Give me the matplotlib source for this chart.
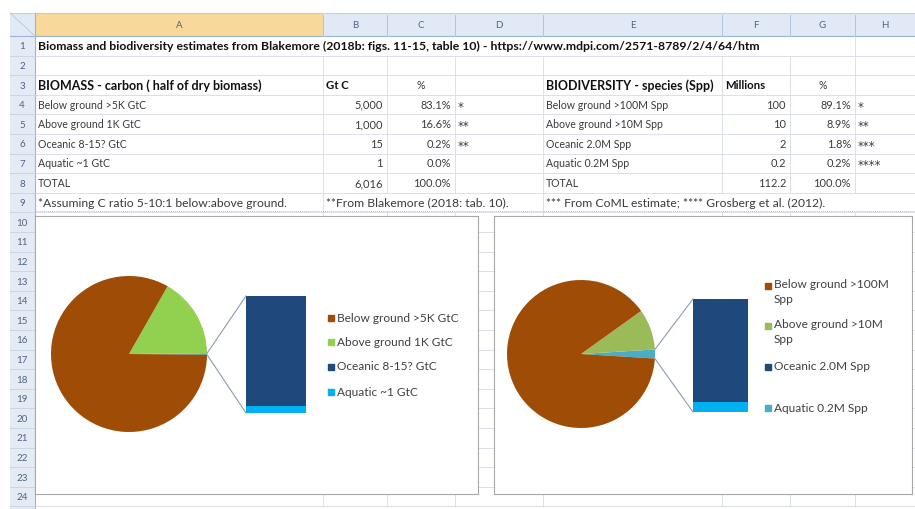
import math
import matplotlib
matplotlib.use("Agg")
import matplotlib.pyplot as plt
from matplotlib.patches import Rectangle
from matplotlib.transforms import Bbox

plt.rcParams['font.family'] = ['Lato', 'DejaVu Sans']

W, H = 915, 509

# ---- sheet contents ----
title = ("Biomass and biodiversity estimates from Blakemore (2018b: figs. 11-15, table 10)"
         " - https://www.mdpi.com/2571-8789/2/4/64/htm")
col_letters = ["A", "B", "C", "D", "E", "F", "G", "H"]

biomass_head = ["BIOMASS - carbon ( half of dry biomass)", "Gt C", "%"]
biomass_labels = ["Below ground >5K GtC", "Above ground 1K GtC", "Oceanic 8-15? GtC", "Aquatic ~1 GtC"]
biomass_gtc = [5000, 1000, 15, 1]
biomass_notes = ["*", "**", "**", ""]

biodiv_head = ["BIODIVERSITY - species (Spp)", "Millions", "%"]
biodiv_labels = ["Below ground >100M Spp", "Above ground >10M Spp", "Oceanic 2.0M Spp", "Aquatic 0.2M Spp"]
biodiv_millions = [100, 10, 2, 0.2]
biodiv_notes = ["*", "**", "***", "****"]

footnotes = ["*Assuming C ratio 5-10:1 below:above ground.",
             "**From Blakemore (2018: tab. 10).",
             "*** From CoML estimate; **** Grosberg et al. (2012)."]

legend_left = ["Below ground >5K GtC", "Above ground 1K GtC", "Oceanic 8-15? GtC", "Aquatic ~1 GtC"]
legend_right = ["Below ground >100M\nSpp", "Above ground >10M\nSpp", "Oceanic 2.0M Spp", "Aquatic 0.2M Spp"]

BROWN = "#9F4C06"
GREEN_L = "#92D050"
GREEN_R = "#9BBB59"
NAVY = "#1F497D"
AQUA = "#00B0F0"
TEAL = "#4BACC6"

GRID = "#D5DBE5"
TXT = "#3a3a3a"

# ---- layout (pixels) ----
cols = [35, 323, 387, 455, 543, 722, 790, 855, 915]
hdr_top, hdr_bot = 13, 36
row_h = 19.6


def row_top(n):
    return hdr_bot + (n - 1) * row_h


def row_mid(n):
    return row_top(n) + row_h / 2


fig = plt.figure(figsize=(W / 100, H / 100), dpi=100)
bg = fig.add_axes([0, 0, 1, 1])
bg.set_xlim(0, W)
bg.set_ylim(H, 0)
bg.axis("off")

# column header band
bg.add_patch(Rectangle((10, hdr_top), W - 10, hdr_bot - hdr_top, fc="#E0E9F5", ec="none"))
bg.add_patch(Rectangle((cols[0], hdr_top), cols[1] - cols[0], hdr_bot - hdr_top, fc="#F9D99B", ec="none"))
bg.plot([10, W], [hdr_bot, hdr_bot], color="#9EB3CD", lw=0.8)
bg.plot([10, W], [hdr_top, hdr_top], color="#B8C8DC", lw=0.6)
for i, letter in enumerate(col_letters):
    x0, x1 = cols[i], cols[i + 1]
    bg.plot([x1, x1], [hdr_top + 2, hdr_bot], color="#B4C4D9", lw=0.7)
    bg.text((x0 + x1) / 2, (hdr_top + hdr_bot) / 2 + 1, letter, ha="center", va="center",
            fontsize=7, color="#4F6381")

# row header strip
bg.add_patch(Rectangle((10, hdr_bot), cols[0] - 10, H - hdr_bot, fc="#E4EBF5", ec="none"))
bg.plot([cols[0], cols[0]], [hdr_top, H], color="#9EB3CD", lw=0.8)
for n in range(1, 25):
    bg.plot([10, cols[0]], [row_top(n + 1), row_top(n + 1)], color="#C5D2E3", lw=0.6)
    bg.text(22, row_mid(n) + 1, str(n), ha="center", va="center", fontsize=7, color="#4F6381")
bg.plot([10, cols[0]], [hdr_top, hdr_bot], color="#B8C8DC", lw=0.6)

# grid lines
for n in range(1, 26):
    bg.plot([cols[0], W], [row_top(n), row_top(n)], color=GRID, lw=0.6, zorder=0)
# rows where text spills over hide the vertical lines
hidden = {1: set(range(1, 7)), 9: {2, 3, 5, 6, 7}}
for n in range(1, 25):
    for j in range(1, len(cols) - 1):
        if j in hidden.get(n, set()):
            continue
        bg.plot([cols[j], cols[j]], [row_top(n), row_top(n + 1)], color=GRID, lw=0.6, zorder=0)
bg.plot([cols[0], W], [row_top(10) - 1, row_top(10) - 1], color="#9AA3B0", lw=0.6, ls=(0, (1, 1.5)))

FS = 7.6


def cell(col, n, s, align="left", bold=False, size=FS, clip_to=None):
    y = row_mid(n) + 0.5
    if align == "left":
        x, ha = cols[col] + 3, "left"
    elif align == "right":
        x, ha = cols[col + 1] - 4, "right"
    else:
        x, ha = (cols[col] + cols[col + 1]) / 2, "center"
    t = bg.text(x, y, s, ha=ha, va="center", fontsize=size,
                fontweight="bold" if bold else "normal",
                color="#111111" if bold else TXT)
    if clip_to is not None:
        x0, x1 = clip_to
        p0 = bg.transData.transform((x0, H))
        p1 = bg.transData.transform((x1, 0))
        t.set_clip_box(Bbox([p0, p1]))
        t.set_clip_on(True)
    return t


def note(col, n, s):
    bg.text(cols[col] + 3, row_mid(n) + 2.5, s, ha="left", va="center", fontsize=8.5,
            color=TXT, family="DejaVu Sans")


cell(0, 1, title, bold=True, size=8.8)

# biomass block
cell(0, 3, biomass_head[0], bold=True, size=9.0)
cell(1, 3, biomass_head[1], bold=True, size=8.2)
cell(2, 3, biomass_head[2], align="center")
tot_b = sum(biomass_gtc)
for i, lab in enumerate(biomass_labels):
    cell(0, 4 + i, lab)
    cell(1, 4 + i, f"{biomass_gtc[i]:,}", align="right", size=7.9)
    cell(2, 4 + i, f"{100 * biomass_gtc[i] / tot_b:.1f}%", align="right", size=7.9)
    note(3, 4 + i, biomass_notes[i])
cell(0, 8, "TOTAL")
cell(1, 8, f"{tot_b:,}", align="right", size=7.9)
cell(2, 8, "100.0%", align="right", size=7.9)

# biodiversity block
cell(4, 3, biodiv_head[0], bold=True, size=9.0, clip_to=(cols[4], cols[5] - 1))
cell(5, 3, biodiv_head[1], bold=True, size=8.2)
cell(6, 3, biodiv_head[2], align="center")
tot_d = sum(biodiv_millions)
for i, lab in enumerate(biodiv_labels):
    cell(4, 4 + i, lab)
    cell(5, 4 + i, f"{biodiv_millions[i]:g}", align="right", size=7.9)
    cell(6, 4 + i, f"{100 * biodiv_millions[i] / tot_d:.1f}%", align="right", size=7.9)
    note(7, 4 + i, biodiv_notes[i])
cell(4, 8, "TOTAL")
cell(5, 8, f"{tot_d:.1f}", align="right", size=7.9)
cell(6, 8, "100.0%", align="right", size=7.9)

cell(0, 9, footnotes[0], size=8.7)
cell(1, 9, footnotes[1], size=8.7)
cell(4, 9, footnotes[2], size=8.7)


# ---- pie-of-bar charts ----
def chart(box, values, colors, other_color, pie_c, R, bar_x, bar_w, bar_y0, bar_h,
          labels, leg_colors, leg_x, leg_y):
    x0, y0, x1, y1 = box
    w, h = x1 - x0, y1 - y0
    ax = fig.add_axes([x0 / W, 1 - y1 / H, w / W, h / H])
    ax.set_facecolor("white")
    for s in ax.spines.values():
        s.set_color("#A8A8A8")
        s.set_linewidth(0.8)

    tot = sum(values)
    other = values[2] + values[3]
    half = 180 * other / tot
    cx, cy = pie_c[0] - x0, y1 - pie_c[1]
    ax.pie([other, values[1], values[0]], colors=[other_color, colors[1], colors[0]],
           startangle=-half, counterclock=True, center=(cx, cy), radius=R,
           frame=True, wedgeprops=dict(linewidth=0))

    # stacked bar with the small slices
    scale = bar_h / other
    bx = bar_x - x0
    by = y1 - bar_y0
    ax.bar([bx], [values[3] * scale], bottom=by, width=bar_w, color=colors[3], lw=0)
    ax.bar([bx], [values[2] * scale], bottom=by + values[3] * scale, width=bar_w,
           color=colors[2], lw=0)

    # connector lines
    for sgn, yb in [(1, by + bar_h), (-1, by)]:
        a = math.radians(sgn * half)
        ax.plot([cx + R * math.cos(a), bx - bar_w / 2], [cy + R * math.sin(a), yb],
                color="#8C9BB0", lw=0.8)

    # legend
    for lab, c, ly in zip(labels, leg_colors, leg_y):
        ax.plot([leg_x - x0], [y1 - ly], marker="s", ms=5, color=c, lw=0)
        if "\n" in lab:
            ax.text(leg_x - x0 + 6, y1 - ly + 7, lab, ha="left", va="top",
                    fontsize=8.6, color="#404040", linespacing=1.45)
        else:
            ax.text(leg_x - x0 + 6, y1 - ly, lab, ha="left", va="center",
                    fontsize=8.6, color="#404040")

    ax.set_xlim(0, w)
    ax.set_ylim(0, h)
    ax.set_aspect("auto")
    ax.set_xticks([])
    ax.set_yticks([])
    return ax


chart((35, 216, 478, 494), biomass_gtc, [BROWN, GREEN_L, NAVY, AQUA], AQUA,
      (129, 354), 78, 276, 60, 413, 117,
      legend_left, [BROWN, GREEN_L, NAVY, AQUA], 331, [318, 342, 367, 392])

chart((494, 216, 912, 494), biodiv_millions, [BROWN, GREEN_R, NAVY, AQUA], TEAL,
      (581, 354), 74, 720.5, 55, 412, 113,
      legend_right, [BROWN, GREEN_R, NAVY, TEAL], 768, [286, 326, 367, 408])

fig.savefig("out.png", dpi=100)
